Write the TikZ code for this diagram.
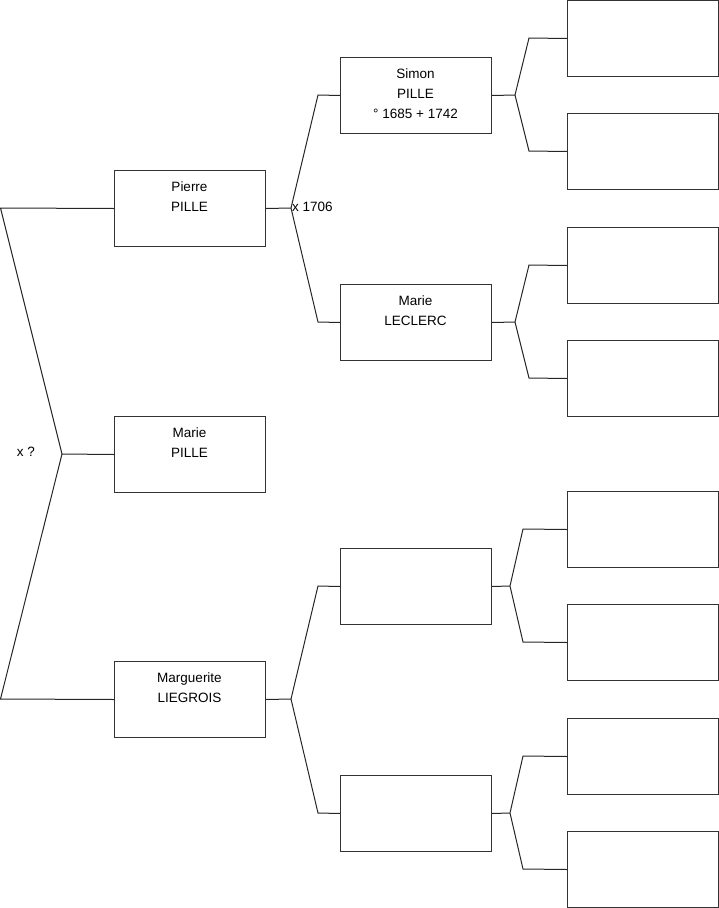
\documentclass[tikz,border=0pt]{standalone}
\usepackage{fontspec}
\setmainfont{Liberation Sans}
\begin{document}
\begin{tikzpicture}[x=1pt,y=-1pt,
  box/.style={draw=black!80,line width=1pt,rectangle,minimum width=151pt,minimum height=76pt,anchor=north west,inner sep=0pt},
  lbl/.style={anchor=north,align=center,font=\fontsize{13.5}{20}\selectfont,inner sep=0pt},
  conn/.style={draw=black!85,line width=1pt},
  txt/.style={font=\fontsize{13.5}{15}\selectfont,inner sep=0pt}]
\useasboundingbox (0,0) rectangle (719,908);
% column 1
\node[box] (p) at (114,170) {};
\node[box] (mp) at (114,416) {};
\node[box] (ml) at (114,661) {};
% column 2
\node[box] (s) at (340,57) {};
\node[box] (lc) at (340,284) {};
\node[box] (e1) at (340,548) {};
\node[box] (e2) at (340,775) {};
% column 3
\node[box] (r1) at (567,0) {};
\node[box] (r2) at (567,113) {};
\node[box] (r3) at (567,227) {};
\node[box] (r4) at (567,340) {};
\node[box] (r5) at (567,491) {};
\node[box] (r6) at (567,604) {};
\node[box] (r7) at (567,718) {};
\node[box] (r8) at (567,831) {};
% labels
\node[lbl] (tp) at (189.5,181.5) {Pierre\\PILLE};
\node[lbl] (tmp) at (189.5,427.5) {Marie\\PILLE};
\node[lbl] (tml) at (189.5,672.5) {Marguerite\\LIEGROIS};
\node[lbl] (ts) at (415.5,68.5) {Simon\\PILLE\\° 1685 + 1742};
\node[lbl] (tlc) at (415.5,295.5) {Marie\\LECLERC};
\node[txt] (x1) at (26,452) {x ?};
\node[txt,anchor=west] (x2) at (292,207) {x 1706};
% left connectors
\coordinate (L1) at (0.5,208);
\coordinate (J0) at (62,454);
\coordinate (L3) at (0.5,699);
\draw[conn] (p.west) -- (L1) -- (J0) -- (L3) -- (ml.west);
\draw[conn] (J0) -- (mp.west);
% forks
\coordinate (F1) at (291,208);
\coordinate (F1a) at (318,95);
\coordinate (F1b) at (318,322);
\draw[conn] (p.east) -- (F1);
\draw[conn] (s.west) -- (F1a) -- (F1) -- (F1b) -- (lc.west);
\coordinate (F2) at (291,699);
\coordinate (F2a) at (318,586);
\coordinate (F2b) at (318,813);
\draw[conn] (ml.east) -- (F2);
\draw[conn] (e1.west) -- (F2a) -- (F2) -- (F2b) -- (e2.west);
% right forks
\coordinate (G1) at (515,95);
\coordinate (G1a) at (529,38);
\coordinate (G1b) at (529,151);
\draw[conn] (s.east) -- (G1);
\draw[conn] (r1.west) -- (G1a) -- (G1) -- (G1b) -- (r2.west);
\coordinate (G2) at (515,322);
\coordinate (G2a) at (529,265);
\coordinate (G2b) at (529,378);
\draw[conn] (lc.east) -- (G2);
\draw[conn] (r3.west) -- (G2a) -- (G2) -- (G2b) -- (r4.west);
\coordinate (G3) at (510,586);
\coordinate (G3a) at (523,529);
\coordinate (G3b) at (523,642);
\draw[conn] (e1.east) -- (G3);
\draw[conn] (r5.west) -- (G3a) -- (G3) -- (G3b) -- (r6.west);
\coordinate (G4) at (510,813);
\coordinate (G4a) at (523,756);
\coordinate (G4b) at (523,869);
\draw[conn] (e2.east) -- (G4);
\draw[conn] (r7.west) -- (G4a) -- (G4) -- (G4b) -- (r8.west);
\end{tikzpicture}
\end{document}
